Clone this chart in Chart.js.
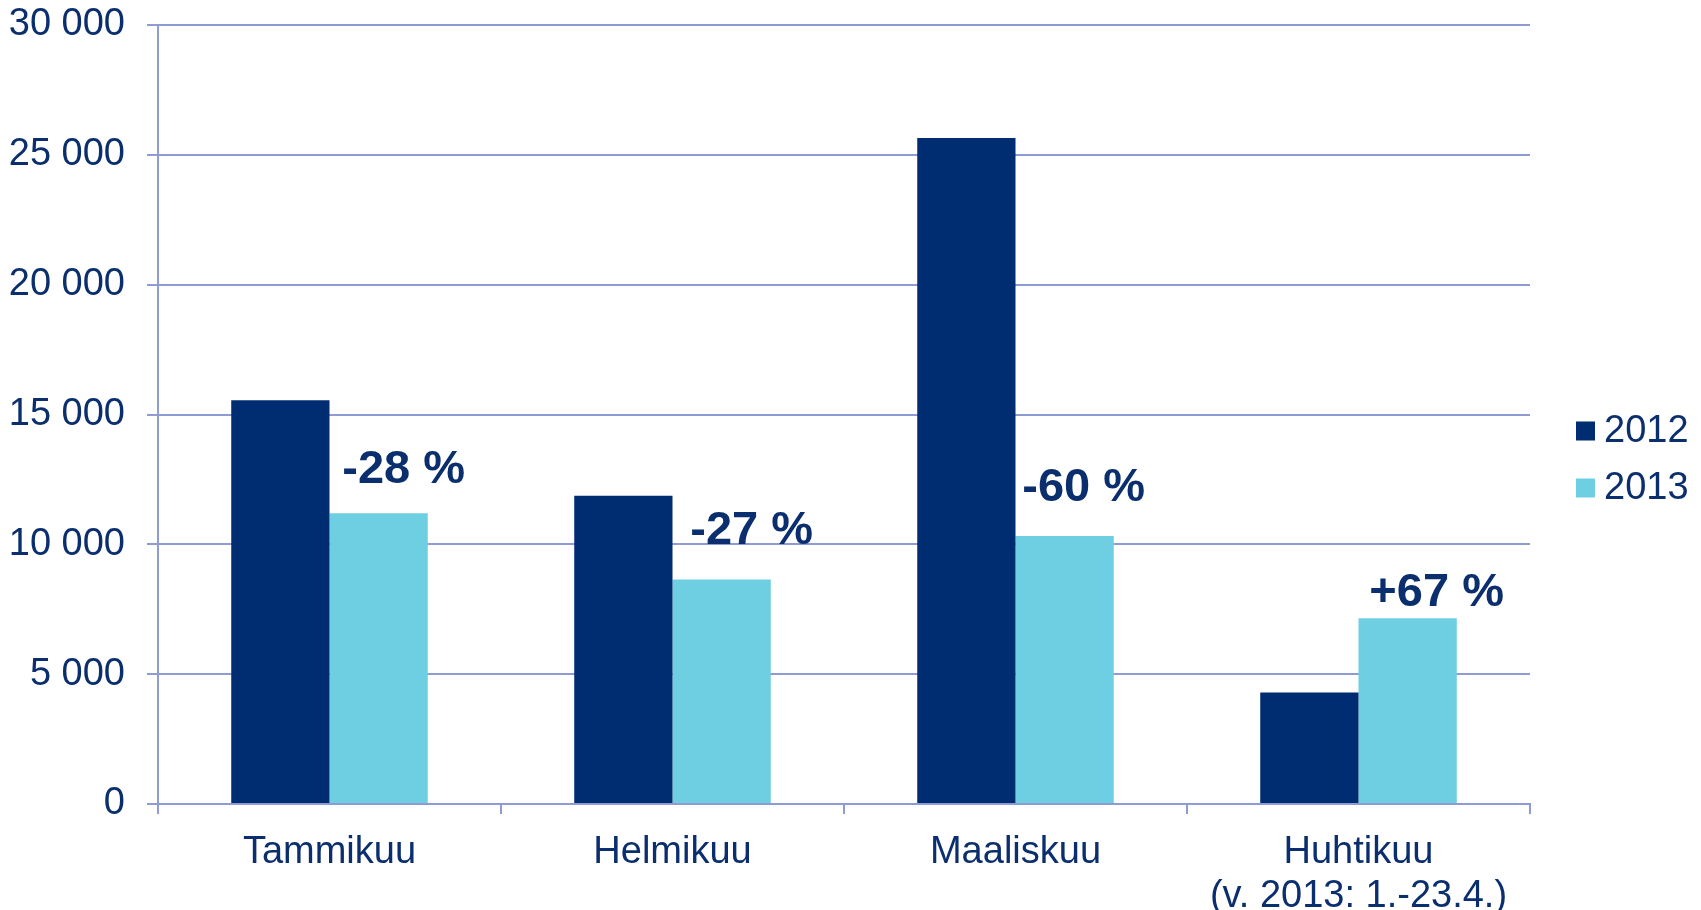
<!DOCTYPE html>
<html>
<head>
<meta charset="utf-8">
<script src="https://cdn.jsdelivr.net/npm/chart.js@4/dist/chart.umd.min.js"></script>
<style>
  html, body { margin: 0; padding: 0; background: #fff; }
  #wrap { width: 1701px; height: 910px; }
</style>
</head>
<body>
<div id="wrap"><canvas id="chart" width="1701" height="910"></canvas></div>
<script>
// data
const months = ['Tammikuu', 'Helmikuu', 'Maaliskuu', ['Huhtikuu', '(v. 2013: 1.-23.4.)']];
const years = ['2012', '2013'];
const values2012 = [15550, 11870, 25650, 4290];
const values2013 = [11200, 8650, 10320, 7150];
const changeLabels = ['-28 %', '-27 %', '-60 %', '+67 %'];
const yTicks = { min: 0, max: 30000, step: 5000 };

const navy = '#002D72';
const cyan = '#6FCFE2';
const textColor = '#0B2F6E';
const gridColor = '#8E9BD5';
const fontFamily = "'Liberation Sans', Arial, sans-serif";

// draws the legend at the right and the change labels above the 2013 bars
const annotate = {
    id: 'annotate',
    afterDatasetsDraw(chart, args, opts) {
        const ctx = chart.ctx;
        ctx.save();
        ctx.font = `bold 47px ${fontFamily}`;
        ctx.fillStyle = textColor;
        ctx.textAlign = 'center';
        ctx.textBaseline = 'middle';
        const bars = chart.getDatasetMeta(1).data;
        bars.forEach((bar, i) => {
            const [dx, dy] = opts.nudge[i];
            ctx.fillText(changeLabels[i], bar.x + dx, bar.y + dy);
        });

        ctx.font = `38px ${fontFamily}`;
        ctx.textAlign = 'left';
        chart.data.datasets.forEach((ds, i) => {
            const y = opts.legendY + i * opts.legendGap;
            ctx.fillStyle = ds.backgroundColor;
            ctx.fillRect(opts.legendX, y - 9.5, 19, 19);
            ctx.fillStyle = textColor;
            ctx.fillText(ds.label, opts.legendX + 28, y + 1);
        });
        ctx.restore();
    }
};

new Chart(document.getElementById('chart'), {
    type: 'bar',
    data: {
        labels: months,
        datasets: [
            { label: years[0], data: values2012, backgroundColor: navy },
            { label: years[1], data: values2013, backgroundColor: cyan }
        ]
    },
    options: {
        responsive: false,
        animation: false,
        layout: { padding: { top: 25, right: 171, left: 0, bottom: 0 } },
        datasets: { bar: { categoryPercentage: 0.573, barPercentage: 1 } },
        plugins: {
            legend: { display: false },
            tooltip: { enabled: false },
            annotate: {
                nudge: [[25, -43], [30, -48], [19, -48], [29, -25]],
                legendX: 1576, legendY: 431, legendGap: 57
            }
        },
        scales: {
            x: {
                grid: { display: true, drawOnChartArea: false, drawTicks: true, tickLength: 10, color: gridColor, lineWidth: 2 },
                border: { color: gridColor, width: 2 },
                ticks: { color: textColor, font: { family: fontFamily, size: 38, lineHeight: 1.16 }, padding: 16, maxRotation: 0, autoSkip: false },
                afterFit(scale) { scale.height = 106; }
            },
            y: {
                min: yTicks.min,
                max: yTicks.max,
                grid: { color: gridColor, lineWidth: 2, tickLength: 11 },
                border: { color: gridColor, width: 2 },
                ticks: {
                    stepSize: yTicks.step,
                    color: textColor,
                    font: { family: fontFamily, size: 38 },
                    padding: 22,
                    callback: v => String(v).replace(/\B(?=(\d{3})+(?!\d))/g, ' ')
                },
                afterFit(scale) {
                    scale.width = 158;
                    scale.paddingTop = 0;
                    scale.paddingBottom = 0;
                }
            }
        }
    },
    plugins: [annotate]
});
</script>
</body>
</html>
